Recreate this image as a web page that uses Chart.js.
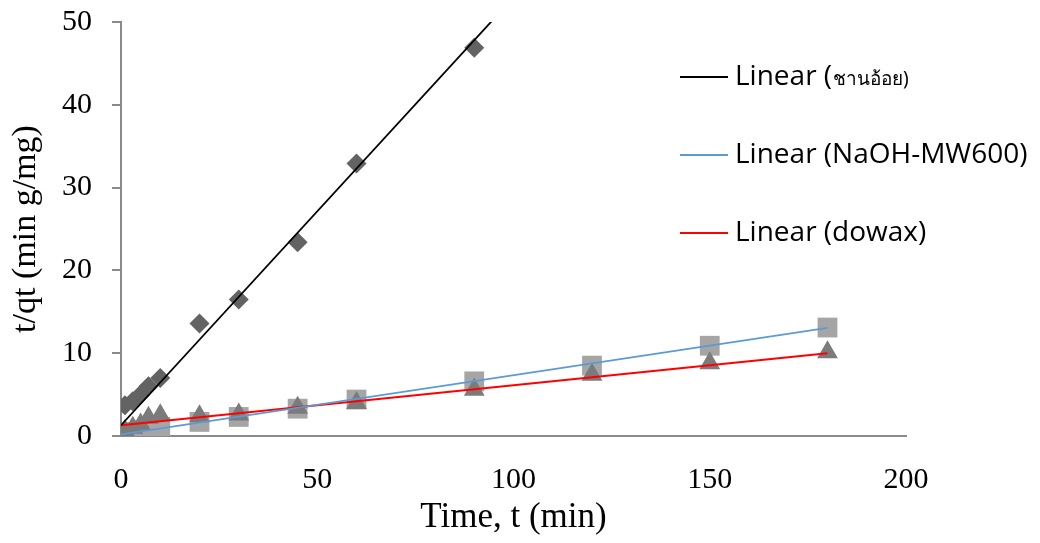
<!DOCTYPE html>
<html>
<head>
<meta charset="utf-8">
<script src="https://cdn.jsdelivr.net/npm/chart.js@4"></script>
<style>
  html, body { margin: 0; padding: 0; background: #ffffff; }
  #wrap { width: 1040px; height: 543px; }
</style>
</head>
<body>
<div id="wrap"><canvas id="c" width="1040" height="543"></canvas></div>
<script>
// Pseudo-second-order kinetics: t/qt versus contact time for three adsorbents
const tBagasse = [1, 3, 5, 7, 10, 20, 30, 45, 60, 90];
const qBagasse = [3.7, 4.2, 5.0, 6.0, 7.0, 13.6, 16.5, 23.4, 32.9, 46.9];

const tNaoh = [0, 1, 3, 5, 7, 10, 20, 30, 45, 60, 90, 120, 150, 180];
const qNaoh = [0.1, 0.3, 0.5, 0.7, 0.9, 1.1, 1.7, 2.3, 3.3, 4.4, 6.6, 8.5, 10.9, 13.1];

const tDowax = [0, 1, 3, 5, 7, 10, 20, 30, 45, 60, 90, 120, 150, 180];
const qDowax = [0.0, 0.6, 1.0, 1.4, 2.2, 2.5, 2.4, 2.6, 3.4, 4.0, 5.6, 7.4, 8.8, 10.1];

// Linear trend lines, given by their values at both ends of the time range
const fitT = [0, 180];
const fitBagasse = [1.3, 94.3];
const fitNaoh = [0.2, 13.05];
const fitDowax = [1.3, 10.0];

const xTicks = [0, 50, 100, 150, 200];
const yTicks = [0, 10, 20, 30, 40, 50];

const seriesNames = ['ชานอ้อย', 'NaOH-MW600', 'dowax'];

const pts = (xs, ys) => xs.map((x, i) => ({ x: x, y: ys[i] }));

const trend = (name, ys, color, width) => ({
  type: 'line',
  label: 'Linear (' + name + ')',
  data: pts(fitT, ys),
  borderColor: color,
  borderWidth: width,
  pointRadius: 0,
  fill: false,
  tension: 0,
  isTrend: true
});

const marks = (name, xs, ys, style, radius, color) => ({
  type: 'scatter',
  label: name,
  data: pts(xs, ys),
  pointStyle: style,
  pointRadius: radius,
  pointBackgroundColor: color,
  pointBorderColor: color,
  pointBorderWidth: 0,
  showLine: false
});

// Legend listing only the trend lines, drawn at the right of the plot
const trendLegend = {
  id: 'trendLegend',
  afterDatasetsDraw(chart) {
    const ctx = chart.ctx;
    const rowsY = [77, 155, 233];
    const lineX0 = 680, lineX1 = 728, textX = 735;
    const items = chart.data.datasets.filter(d => d.isTrend);
    ctx.save();
    items.forEach((d, i) => {
      const y = rowsY[i];
      ctx.beginPath();
      ctx.strokeStyle = d.borderColor;
      ctx.lineWidth = d.borderWidth;
      ctx.moveTo(lineX0, y);
      ctx.lineTo(lineX1, y);
      ctx.stroke();
      ctx.fillStyle = '#000000';
      ctx.textBaseline = 'middle';
      ctx.textAlign = 'left';
      const m = d.label.match(/[\u0E00-\u0E7F]/);
      const cut = m ? d.label.indexOf(m[0]) : d.label.length;
      const head = d.label.slice(0, cut);
      const tail = d.label.slice(cut);
      ctx.font = '28px "Open Sans", "Noto Sans", sans-serif';
      ctx.fillText(head, textX, y);
      if (tail) {
        const w = ctx.measureText(head).width;
        ctx.font = '19px "Noto Sans", "DejaVu Sans", sans-serif';
        ctx.fillText(tail, textX + w + 1, y + 3);
      }
    });
    ctx.restore();
  }
};

const axisGray = '#8a8a8a';
const serif = '"Liberation Serif", "Times New Roman", serif';

new Chart(document.getElementById('c'), {
  type: 'scatter',
  data: {
    datasets: [
      trend(seriesNames[0], fitBagasse, '#000000', 1.8),
      trend(seriesNames[1], fitNaoh, '#5b9bd5', 1.8),
      trend(seriesNames[2], fitDowax, '#ff0000', 2),
      marks(seriesNames[2], tDowax, qDowax, 'triangle', 12, '#7b7b7b'),
      marks(seriesNames[1], tNaoh, qNaoh, 'rect', 14, '#a5a5a5'),
      marks(seriesNames[0], tBagasse, qBagasse, 'rectRot', 10, '#636363')
    ]
  },
  options: {
    responsive: false,
    animation: false,
    devicePixelRatio: 1,
    layout: { padding: { left: 0, right: 134, top: 22, bottom: 0 } },
    plugins: {
      legend: { display: false },
      tooltip: { enabled: false }
    },
    scales: {
      x: {
        type: 'linear',
        min: 0,
        max: 200,
        afterBuildTicks: s => { s.ticks = xTicks.map(v => ({ value: v })); },
        afterFit: s => { s.height = 107; },
        grid: { display: true, drawOnChartArea: false, drawTicks: false },
        border: { display: true, color: axisGray, width: 2 },
        ticks: {
          padding: 26,
          color: '#000000',
          font: { family: serif, size: 30 }
        },
        title: {
          display: true,
          text: 'Time, t (min)',
          color: '#000000',
          padding: { top: 0, bottom: 4 },
          font: { family: serif, size: 35 }
        }
      },
      y: {
        type: 'linear',
        min: 0,
        max: 50,
        afterBuildTicks: s => { s.ticks = yTicks.map(v => ({ value: v })); },
        afterFit: s => { s.width = 121; s.paddingTop = 0; s.paddingBottom = 0; },
        grid: { display: true, drawOnChartArea: false, drawTicks: true, tickLength: 9, color: axisGray, lineWidth: 2 },
        border: { display: true, color: axisGray, width: 2 },
        ticks: {
          padding: 20,
          color: '#000000',
          font: { family: serif, size: 30 }
        },
        title: {
          display: true,
          text: 't/qt (min g/mg)',
          color: '#000000',
          padding: { top: 6, bottom: 0 },
          font: { family: serif, size: 34 }
        }
      }
    }
  },
  plugins: [trendLegend]
});
</script>
</body>
</html>
